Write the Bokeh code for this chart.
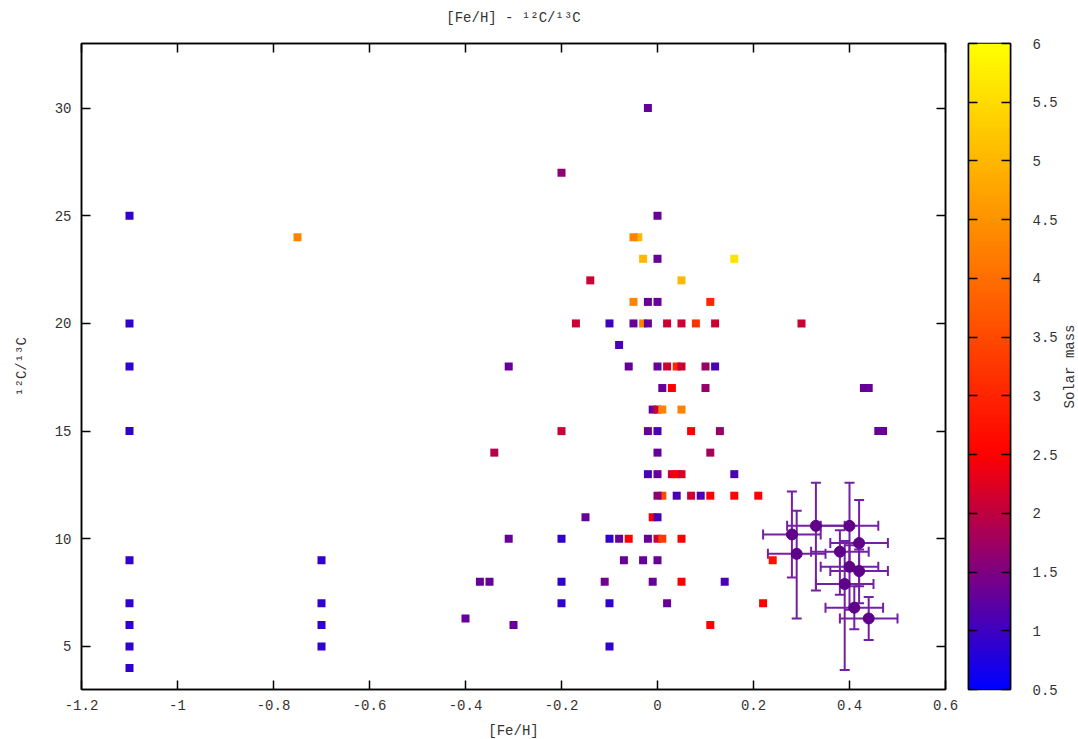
import math
import numpy as np
from bokeh.plotting import figure
from bokeh.layouts import row
from bokeh.core.properties import value
from bokeh.models import (Range1d, FixedTicker, CustomJSTickFormatter, LinearAxis,
                          LinearColorMapper, ColumnDataSource, Whisker, TeeHead)
from bokeh.embed import file_html
from bokeh.resources import INLINE

# ---------------- data ----------------
feh = [-1.1, -1.1, -1.1, -1.1, -1.1, -1.1, -1.1, -1.1, -1.1,
       -0.75,
       -0.7, -0.7, -0.7, -0.7,
       -0.4, -0.37, -0.35, -0.34, -0.31, -0.31, -0.3,
       -0.2, -0.2, -0.2, -0.2, -0.2,
       -0.17, -0.15, -0.14, -0.11,
       -0.1, -0.1, -0.1, -0.1,
       -0.08, -0.08, -0.07, -0.06, -0.06,
       -0.04, -0.05, -0.05, -0.05,
       -0.03, -0.03, -0.03,
       -0.02, -0.02, -0.02, -0.02, -0.02, -0.02,
       -0.01, -0.01, -0.01,
       0.0, 0.0, 0.0, 0.0, 0.0, 0.0, 0.0, 0.0, 0.01, 0.0, 0.0, 0.0, 0.0,
       0.01, 0.01, 0.01,
       0.02, 0.02, 0.02,
       0.03, 0.03,
       0.04, 0.04, 0.04,
       0.05, 0.05, 0.05, 0.05, 0.05, 0.05, 0.05,
       0.07, 0.07, 0.08, 0.09,
       0.1, 0.1,
       0.11, 0.11, 0.11, 0.11,
       0.12, 0.12, 0.13, 0.14,
       0.16, 0.16, 0.16,
       0.21, 0.22, 0.24, 0.3,
       0.43, 0.44, 0.46, 0.47]
c_ratio = [25, 20, 18, 15, 9, 7, 6, 5, 4,
           24,
           9, 7, 6, 5,
           6.3, 8, 8, 14, 18, 10, 6,
           27, 15, 10, 8, 7,
           20, 11, 22, 8,
           20, 10, 7, 5,
           19, 10, 9, 18, 10,
           24, 24, 21, 20,
           23, 20, 9,
           30, 21, 20, 15, 13, 10,
           16, 11, 8,
           25, 23, 21, 18, 16, 15, 14, 13, 12, 12, 11, 10, 9,
           17, 16, 10,
           20, 18, 7,
           17, 13,
           18, 13, 12,
           22, 20, 18, 16, 13, 10, 8,
           15, 12, 20, 12,
           18, 17,
           21, 14, 12, 6,
           20, 18, 15, 8,
           23, 13, 12,
           12, 7, 9, 20,
           17, 17, 15, 15]
mass = [0.9, 0.9, 0.9, 0.9, 0.9, 0.9, 0.9, 0.9, 0.9,
        4.3,
        0.9, 0.9, 0.9, 0.9,
        1.3, 1.3, 1.3, 1.9, 1.3, 1.3, 1.3,
        1.6, 2.1, 0.9, 0.9, 0.9,
        2.1, 1.3, 2.1, 1.4,
        1.0, 0.9, 0.9, 0.9,
        1.1, 1.3, 1.3, 1.3, 2.5,
        5.0, 4.3, 4.3, 1.3,
        5.0, 4.3, 1.3,
        1.3, 1.3, 1.3, 1.3, 1.1, 1.3,
        1.3, 2.5, 1.3,
        1.3, 1.3, 1.3, 1.3, 2.1, 1.1, 1.3, 1.3, 3.5, 1.6, 1.1, 2.1, 1.3,
        1.3, 4.3, 3.3,
        2.1, 2.1, 1.3,
        2.5, 2.2,
        3.0, 2.5, 1.1,
        5.0, 2.1, 2.1, 4.3, 2.2, 2.5, 2.5,
        2.5, 2.1, 3.2, 1.1,
        1.7, 1.7,
        3.0, 1.8, 2.5, 2.5,
        2.1, 1.1, 1.7, 1.1,
        5.6, 1.1, 2.5,
        2.5, 2.5, 2.7, 2.1,
        1.3, 1.3, 1.3, 1.3]

# stars with error bars
err_feh = [0.28, 0.29, 0.33, 0.40, 0.42, 0.38, 0.40, 0.42, 0.39, 0.41, 0.44]
err_c = [10.2, 9.3, 10.6, 10.6, 9.8, 9.4, 8.7, 8.5, 7.9, 6.8, 6.3]
err_c_up = [2, 2, 2, 2, 2, 1, 1, 1, 2, 1, 1]
err_c_dn = [2, 3, 3, 2, 2, 2, 2, 1.5, 4, 1, 1]
err_feh_pm = [0.06, 0.06, 0.06, 0.06, 0.06, 0.06, 0.06, 0.06, 0.06, 0.06, 0.06]

x_ticks = [-1.2, -1.0, -0.8, -0.6, -0.4, -0.2, 0.0, 0.2, 0.4, 0.6]
y_ticks = [5, 10, 15, 20, 25, 30]
cb_ticks = [0.5, 1, 1.5, 2, 2.5, 3, 3.5, 4, 4.5, 5, 5.5, 6]
mass_low, mass_high = 0.5, 6
cb_title = "Solar mass"

# ---------------- palette (blue -> red -> yellow) ----------------
palette = []
n = 256
split = 2.0 / 5.5
for i in range(n):
    t = i / (n - 1)
    if t <= split:
        f = t / split
        r, g, b = 255 * f, 0, 255 * (1 - f)
    else:
        f = (t - split) / (1 - split)
        r, g, b = 255, 255 * f, 0
    palette.append("#%02x%02x%02x" % (int(round(r)), int(round(g)), int(round(b))))

mapper = LinearColorMapper(palette=palette, low=mass_low, high=mass_high)

FONT = "Liberation Mono"
TXT = "#333333"

fmt = CustomJSTickFormatter(code="return (Math.round(tick*10)/10).toString();")
blank = CustomJSTickFormatter(code="return '';")


def style_axis(ax, labels=True):
    ax.major_tick_in = 9
    ax.major_tick_out = 0
    ax.minor_tick_line_color = None
    ax.axis_line_color = "black"
    ax.axis_line_width = 1.5
    ax.major_tick_line_color = "black"
    ax.major_tick_line_width = 1.5
    ax.major_label_text_font = FONT
    ax.major_label_text_font_size = "14px"
    ax.major_label_text_color = TXT
    ax.axis_label_text_font = FONT
    ax.axis_label_text_font_size = "14px"
    ax.axis_label_text_font_style = "normal"
    ax.axis_label_text_color = TXT
    ax.formatter = fmt if labels else blank
    if not labels:
        ax.major_label_standoff = 0


def mirror(ticks):
    a = LinearAxis(ticker=FixedTicker(ticks=ticks))
    style_axis(a, labels=False)
    return a


# ---------------- main plot ----------------
p = figure(frame_width=864, frame_height=646,
           x_range=Range1d(-1.2, 0.6), y_range=Range1d(3, 33),
           output_backend="svg", toolbar_location=None, title=None,
           min_border_left=81, min_border_right=14, min_border_top=43,
           min_border_bottom=50)
p.background_fill_color = "white"
p.border_fill_color = "white"
p.outline_line_color = "black"
p.outline_line_width = 1.5
p.xgrid.visible = False
p.ygrid.visible = False

style_axis(p.xaxis[0])
style_axis(p.yaxis[0])
p.xaxis[0].ticker = FixedTicker(ticks=x_ticks)
p.yaxis[0].ticker = FixedTicker(ticks=y_ticks)
p.xaxis[0].axis_label = "[Fe/H]"
p.yaxis[0].axis_label = "¹²C/¹³C"
p.xaxis[0].major_label_standoff = 10
p.xaxis[0].axis_label_standoff = 10
p.yaxis[0].major_label_standoff = 10
p.yaxis[0].axis_label_standoff = 22

top_axis = mirror(x_ticks)
top_axis.axis_label = "[Fe/H] - ¹²C/¹³C"
top_axis.axis_label_standoff = 18
p.add_layout(top_axis, "above")
p.add_layout(mirror(y_ticks), "right")

src = ColumnDataSource(dict(x=feh, y=c_ratio, m=mass))
p.scatter("x", "y", source=src, marker="square", size=8,
          fill_color={"field": "m", "transform": mapper}, line_color=None)

esrc = ColumnDataSource(dict(
    x=err_feh, y=err_c,
    yu=[c + u for c, u in zip(err_c, err_c_up)],
    yl=[c - d for c, d in zip(err_c, err_c_dn)],
    xu=[x + e for x, e in zip(err_feh, err_feh_pm)],
    xl=[x - e for x, e in zip(err_feh, err_feh_pm)],
))
ecol = "#7420a4"
for base, up, lo, dim in (("x", "yu", "yl", "height"), ("y", "xu", "xl", "width")):
    p.add_layout(Whisker(source=esrc, base=base, upper=up, lower=lo, dimension=dim,
                         line_color=ecol, line_width=2,
                         upper_head=TeeHead(size=10, line_color=ecol, line_width=2),
                         lower_head=TeeHead(size=10, line_color=ecol, line_width=2)))
p.scatter("x", "y", source=esrc, marker="circle", size=11,
          fill_color="#5e0088", line_color="#5e0088")

# ---------------- colour bar as its own narrow plot ----------------
cbp = figure(frame_width=42, frame_height=646,
             x_range=Range1d(0, 1), y_range=Range1d(mass_low, mass_high),
             output_backend="svg", toolbar_location=None, title=None,
             x_axis_location=None, y_axis_location="right",
             min_border_left=9, min_border_right=0, min_border_top=43,
             min_border_bottom=50)
cbp.background_fill_color = "white"
cbp.border_fill_color = "white"
cbp.outline_line_color = "black"
cbp.outline_line_width = 1.5
cbp.xgrid.visible = False
cbp.ygrid.visible = False
grad = np.linspace(mass_low, mass_high, 512).reshape(-1, 1)
cbp.image(image=[grad], x=0, y=mass_low, dw=1, dh=mass_high - mass_low,
          color_mapper=mapper)
style_axis(cbp.yaxis[0])
cbp.yaxis[0].ticker = FixedTicker(ticks=cb_ticks)
cbp.yaxis[0].major_label_standoff = 22
cbp.add_layout(mirror(cb_ticks), "left")

# ---------------- colour-bar title (rotated, bottom-to-top) ----------------
lab = figure(frame_width=18, frame_height=646,
             x_range=Range1d(0, 1), y_range=Range1d(0, 1),
             output_backend="svg", toolbar_location=None, title=None,
             x_axis_location=None, y_axis_location=None,
             min_border_left=0, min_border_right=0, min_border_top=43,
             min_border_bottom=50)
lab.outline_line_color = None
lab.background_fill_color = "white"
lab.border_fill_color = "white"
lab.xgrid.visible = False
lab.ygrid.visible = False
lab.text(x=[0.5], y=[0.5], text=[cb_title], angle=math.pi / 2,
         text_align="center", text_baseline="middle",
         text_font=value(FONT), text_font_size="14px", text_color=TXT)

layout = row(p, cbp, lab)
open("out.html", "w").write(file_html(layout, INLINE))
